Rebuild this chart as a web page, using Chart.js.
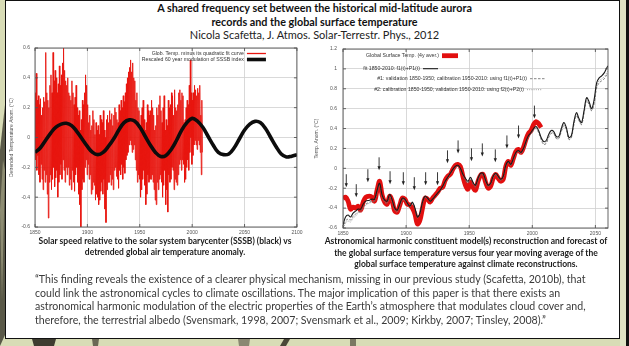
<!DOCTYPE html>
<html>
<head>
<meta charset="utf-8">
<script src="https://cdn.jsdelivr.net/npm/chart.js@4.4.1/dist/chart.umd.min.js"></script>
<style>
  html, body { margin: 0; padding: 0; }
  body { width: 629px; height: 346px; position: relative; overflow: hidden; background: #d8dcb6; font-family: Lato, "Open Sans", sans-serif; }
  #deco { position: absolute; left: 0; top: 0; }
  #frame { position: absolute; left: 5px; top: 0; width: 615px; height: 339px; box-sizing: border-box; border: 1.6px solid #111; background: #fff; }
  .line { position: absolute; white-space: nowrap; line-height: 12px; }
  .title { left: 0; width: 629px; text-align: center; color: #111; font-size: 10.8px; font-weight: bold; }
  .sub { left: 0; width: 629px; text-align: center; color: #222; font-size: 11px; }
  .cap { text-align: center; color: #1a1a1a; font-size: 8.5px; font-weight: bold; }
  .quote { left: 35px; color: #3a3a3a; font-size: 10.6px; }
  .plot { position: absolute; }
</style>
</head>
<body>
<svg id="deco" width="629" height="346">
  <polygon points="0,150 5,105 5,335 0,346" fill="#5a5948"/>
  <polygon points="0,210 3,160 5,170 2,300" fill="#8d8c72"/>
  <rect x="620" y="0" width="6" height="346" fill="#dfe3c4"/>
  <rect x="626" y="0" width="3" height="346" fill="#111"/>
  <polygon points="32,339 56,339 54,346 34,346" fill="#3e3c30"/>
  <polygon points="92,339 99,339 98,346 93,346" fill="#6a6855"/>
  <polygon points="238,339 250,339 249,346 239,346" fill="#8a8872"/>
  <polygon points="284,339 290,339 286,346 280,346" fill="#4a4838"/>
  <polygon points="350,339 356,339 356,346 350,346" fill="#7a7862"/>
</svg>
<div id="frame"></div>

<div class="line title" style="top:2px">A shared frequency set between the historical mid-latitude aurora</div>
<div class="line title" style="top:15.5px">records and the global surface temperature</div>
<div class="line sub" style="top:29px">Nicola Scafetta, J. Atmos. Solar-Terrestr. Phys., 2012</div>

<div class="plot" style="left:5px;top:40px;width:300px;height:200px"><canvas id="leftChart" width="300" height="200"></canvas></div>
<div class="plot" style="left:305px;top:40px;width:313px;height:200px"><canvas id="rightChart" width="313" height="200"></canvas></div>

<div class="line cap" style="left:15px;width:300px;top:235px">Solar speed relative to the solar system barycenter (SSSB) (black) vs</div>
<div class="line cap" style="left:15px;width:300px;top:246px">detrended global air temperature anomaly.</div>
<div class="line cap" style="left:316px;width:300px;top:235px">Astronomical harmonic constituent model(s) reconstruction and forecast of</div>
<div class="line cap" style="left:316px;width:300px;top:246.5px">the global surface temperature versus four year moving average of the</div>
<div class="line cap" style="left:316px;width:300px;top:258px">global surface temperature against climate reconstructions.</div>

<div class="line quote" style="top:273px">“This finding reveals the existence of a clearer physical mechanism, missing in our previous study (Scafetta, 2010b), that</div>
<div class="line quote" style="top:286.5px">could link the astronomical cycles to climate oscillations. The major implication of this paper is that there exists an</div>
<div class="line quote" style="top:300px">astronomical harmonic modulation of the electric properties of the Earth’s atmosphere that modulates cloud cover and,</div>
<div class="line quote" style="top:314px">therefore, the terrestrial albedo (Svensmark, 1998, 2007; Svensmark et al., 2009; Kirkby, 2007; Tinsley, 2008).”</div>

<script>
// ---- Left panel: detrended temperature (yearly upper / lower excursions) ----
const tempYears = [];
for (let y = 1850; y <= 2009; y++) tempYears.push(y);

const tempHigh = [
  0.30, 0.43, 0.25, 0.28, 0.22, 0.26, 0.15, 0.20, 0.27, 0.24,
  0.57, 0.30, 0.25, 0.20, 0.35, 0.42, 0.30, 0.57, 0.38, 0.45,
  0.40, 0.30, 0.36, 0.48, 0.35, 0.42, 0.50, 0.60, 0.45, 0.38,
  0.35, 0.40, 0.30, 0.28, 0.25, 0.38, 0.30, 0.22, 0.27, 0.35,
  0.20, 0.15, 0.18, 0.05, 0.12, 0.25, 0.22, 0.30, 0.42, 0.35,
  0.22, 0.10, 0.15, 0.05, 0.08, 0.18, 0.12, 0.02, 0.10, 0.05,
  0.08, 0.02, 0.15, 0.12, 0.10, 0.18, 0.05, 0.00, 0.12, 0.15,
  0.10, 0.18, 0.12, 0.16, 0.08, 0.15, 0.20, 0.17, 0.12, 0.10,
  0.22, 0.18, 0.25, 0.20, 0.28, 0.24, 0.30, 0.36, 0.40, 0.44,
  0.47, 0.52, 0.44, 0.50, 0.40, 0.38, 0.25, 0.30, 0.20, 0.18,
  0.08, 0.15, 0.20, 0.25, 0.12, 0.05, 0.10, 0.22, 0.18, 0.15,
  0.18, 0.25, 0.20, 0.15, 0.05, 0.08, 0.20, 0.15, 0.22, 0.28,
  0.18, 0.10, 0.20, 0.28, 0.05, 0.12, 0.08, 0.25, 0.20, 0.22,
  0.30, 0.28, 0.15, 0.32, 0.20, 0.18, 0.22, 0.30, 0.32, 0.25,
  0.30, 0.28, 0.10, 0.12, 0.20, 0.25, 0.22, 0.35, 0.52, 0.30,
  0.25, 0.30, 0.35, 0.32, 0.28, 0.33, 0.30, 0.35, 0.15, 0.25
];
const tempLow = [
  -0.15, -0.22, -0.12, -0.25, -0.30, -0.18, -0.28, -0.35, -0.22, -0.30,
  -0.25, -0.38, -0.54, -0.30, -0.25, -0.35, -0.28, -0.20, -0.33, -0.27,
  -0.22, -0.40, -0.30, -0.25, -0.18, -0.28, -0.15, -0.22, -0.30, -0.20,
  -0.25, -0.20, -0.32, -0.28, -0.35, -0.22, -0.30, -0.36, -0.25, -0.20,
  -0.30, -0.38, -0.45, -0.60, -0.35, -0.28, -0.30, -0.20, -0.15, -0.25,
  -0.18, -0.28, -0.25, -0.38, -0.35, -0.30, -0.32, -0.42, -0.38, -0.40,
  -0.45, -0.42, -0.36, -0.30, -0.38, -0.28, -0.48, -0.57, -0.35, -0.30,
  -0.30, -0.25, -0.32, -0.28, -0.35, -0.22, -0.20, -0.26, -0.28, -0.34,
  -0.22, -0.25, -0.18, -0.28, -0.20, -0.24, -0.15, -0.12, -0.10, -0.05,
  -0.02, -0.05, -0.10, -0.08, -0.05, -0.15, -0.22, -0.30, -0.25, -0.28,
  -0.40, -0.35, -0.28, -0.22, -0.32, -0.45, -0.38, -0.25, -0.30, -0.28,
  -0.28, -0.25, -0.30, -0.35, -0.42, -0.45, -0.30, -0.35, -0.28, -0.25,
  -0.30, -0.40, -0.32, -0.22, -0.45, -0.35, -0.50, -0.25, -0.30, -0.28,
  -0.20, -0.22, -0.35, -0.28, -0.30, -0.32, -0.25, -0.18, -0.15, -0.22,
  -0.15, -0.18, -0.30, -0.28, -0.20, -0.15, -0.22, -0.10, 0.00, -0.18,
  -0.12, -0.05, -0.02, -0.05, -0.08, -0.02, -0.05, -0.10, -0.25, -0.10
];

// ---- Left panel: rescaled 60-year SSSB modulation ----
const sssbYears = [1850,1855,1860,1865,1870,1875,1880,1885,1890,1895,1900,1905,1910,1915,1920,1925,1930,1935,1940,1945,1950,
  1955,1960,1965,1970,1975,1980,1985,1990,1995,2000,2005,2010,2015,2020,2025,2030,2035,2040,2045,2050,2055,2060,2065,2070,2075,2080,2085,2090,2095,2100];
const sssbVals = [-0.10,-0.07,-0.02,0.03,0.07,0.09,0.095,0.08,0.04,-0.01,-0.06,-0.10,-0.115,-0.10,-0.06,-0.01,0.05,0.10,0.118,0.11,0.07,
  0.01,-0.05,-0.10,-0.127,-0.12,-0.08,-0.02,0.05,0.10,0.128,0.11,0.07,0.01,-0.05,-0.10,-0.115,-0.11,-0.07,-0.01,0.05,0.09,0.108,0.10,0.06,
  0.00,-0.06,-0.11,-0.13,-0.125,-0.115];

// ---- Right panel: 4-year averaged global surface temperature ----
const gstYears = [1850,1852,1854,1856,1858,1860,1862,1864,1866,1868,1871,1873,1875,1877,1879,1881,1883,1885,1887,1889,1891,1893,1895,1897,1899,
  1901,1903,1905,1907,1909,1911,1913,1915,1917,1919,1921,1923,1925,1927,1929,1931,1933,1935,1937,1939,1941,1943,1945,1947,1949,
  1951,1953,1955,1957,1959,1961,1963,1965,1967,1969,1971,1973,1975,1977,1979,1981,1983,1985,1987,1989,1991,1993,1995,1997,1999,
  2001,2003,2005,2007];
const gstVals = [-0.30,-0.29,-0.33,-0.41,-0.39,-0.40,-0.38,-0.42,-0.34,-0.29,-0.28,-0.29,-0.33,-0.22,-0.13,-0.27,-0.34,-0.36,-0.28,-0.33,-0.43,-0.44,-0.37,-0.30,-0.31,
  -0.36,-0.37,-0.40,-0.46,-0.56,-0.52,-0.40,-0.30,-0.31,-0.34,-0.30,-0.27,-0.24,-0.20,-0.19,-0.12,-0.08,-0.06,-0.01,0.03,0.04,0.02,-0.08,-0.17,-0.21,
  -0.14,-0.19,-0.22,-0.13,-0.07,-0.06,-0.14,-0.20,-0.18,-0.10,-0.06,-0.10,-0.13,-0.11,0.02,0.07,0.03,0.10,0.17,0.19,0.16,0.21,0.29,0.35,0.38,
  0.44,0.47,0.45,0.41];

// ---- Right panel: harmonic model reconstructions and forecast ----
const modelYears = [1850,1852,1854,1856,1858,1860,1862,1864,1866,1868,1871,1873,1875,1877,1879,1881,1883,1885,1887,1889,1891,1893,1895,1897,1899,
  1901,1903,1905,1907,1909,1911,1913,1915,1917,1919,1921,1923,1925,1927,1929,1931,1933,1935,1937,1939,1941,1943,1945,1947,1949,
  1951,1953,1955,1957,1959,1961,1963,1965,1967,1969,1971,1973,1975,1977,1979,1981,1983,1985,1987,1989,1991,1993,1995,1997,1999,
  2001,2003,2005,2007,2009,2011,2013,2015,2017,2019,2021,2023,2025,2027,2029,2031,2033,2035,2037,2039,2041,2043,2045,2047,2049,
  2051,2053,2055,2057,2059,2060];
const fitVals = [-0.57,-0.49,-0.47,-0.49,-0.45,-0.43,-0.41,-0.41,-0.36,-0.33,-0.32,-0.31,-0.31,-0.22,-0.15,-0.27,-0.32,-0.33,-0.26,-0.32,-0.40,-0.42,-0.36,-0.30,-0.31,
  -0.35,-0.38,-0.34,-0.40,-0.49,-0.45,-0.34,-0.28,-0.30,-0.33,-0.31,-0.28,-0.25,-0.22,-0.18,-0.13,-0.09,-0.05,-0.01,0.02,0.03,0.00,-0.06,-0.10,-0.13,
  -0.09,-0.14,-0.17,-0.10,-0.05,-0.05,-0.12,-0.17,-0.15,-0.08,-0.05,-0.08,-0.11,-0.08,0.03,0.07,0.04,0.10,0.16,0.18,0.16,0.20,0.27,0.33,0.36,
  0.40,0.42,0.38,0.31,0.27,0.28,0.34,0.38,0.37,0.32,0.32,0.40,0.46,0.41,0.31,0.33,0.47,0.56,0.50,0.46,0.58,0.71,0.67,0.60,0.69,
  0.86,0.91,0.93,0.96,1.01,1.03];
const valid1Vals = [-0.60,-0.53,-0.51,-0.52,-0.48,-0.46,-0.44,-0.43,-0.39,-0.36,-0.34,-0.33,-0.33,-0.24,-0.17,-0.28,-0.33,-0.35,-0.28,-0.33,-0.41,-0.43,-0.37,-0.31,-0.32,
  -0.36,-0.38,-0.35,-0.40,-0.48,-0.44,-0.34,-0.29,-0.30,-0.33,-0.31,-0.29,-0.25,-0.22,-0.19,-0.13,-0.09,-0.05,-0.01,0.02,0.03,0.00,-0.07,-0.12,-0.15,
  -0.11,-0.16,-0.19,-0.12,-0.07,-0.07,-0.13,-0.18,-0.16,-0.09,-0.06,-0.09,-0.12,-0.09,0.02,0.06,0.03,0.09,0.15,0.17,0.15,0.19,0.26,0.32,0.35,
  0.38,0.40,0.36,0.29,0.24,0.25,0.31,0.35,0.35,0.30,0.30,0.37,0.43,0.39,0.29,0.31,0.44,0.53,0.48,0.44,0.55,0.68,0.64,0.58,0.65,
  0.81,0.86,0.88,0.90,0.94,0.96];
const calib2Vals = [-0.62,-0.55,-0.53,-0.54,-0.50,-0.48,-0.45,-0.44,-0.40,-0.37,-0.35,-0.34,-0.33,-0.24,-0.17,-0.29,-0.34,-0.35,-0.28,-0.34,-0.42,-0.44,-0.38,-0.32,-0.32,
  -0.36,-0.39,-0.35,-0.41,-0.50,-0.46,-0.35,-0.29,-0.31,-0.33,-0.31,-0.28,-0.25,-0.23,-0.19,-0.14,-0.10,-0.06,-0.02,0.01,0.02,-0.01,-0.06,-0.11,-0.14,
  -0.10,-0.15,-0.18,-0.11,-0.06,-0.06,-0.13,-0.18,-0.16,-0.09,-0.06,-0.09,-0.12,-0.09,0.02,0.06,0.03,0.09,0.15,0.17,0.15,0.19,0.26,0.32,0.35,
  0.39,0.41,0.37,0.30,0.25,0.26,0.32,0.36,0.35,0.30,0.30,0.38,0.44,0.39,0.29,0.31,0.45,0.54,0.48,0.44,0.56,0.69,0.65,0.58,0.66,
  0.83,0.88,0.90,0.92,0.96,0.98];

// ---- Right panel: marked maxima (downward arrows) ----
const arrowYears = [1852.6,1860.5,1869.7,1878.6,1887.3,1897.8,1906.5,1915.5,1924.9,1932.8,1941.2,1951.8,1960.4,1970.7,1979.9,1989.1,2001.7];
const arrowTips  = [-0.19,-0.29,-0.14,-0.02,-0.16,-0.17,-0.22,-0.17,-0.17,0.05,0.15,0.07,0.12,0.06,0.20,0.30,0.50];

// ---------------------------------------------------------------------------
const pairs = (xs, ys) => xs.map((x, i) => ({ x: x, y: ys[i] }));

const detrendedPoints = [];
tempYears.forEach((yr, i) => {
  detrendedPoints.push({ x: yr + 0.25, y: tempHigh[i] }, { x: yr + 0.75, y: tempLow[i] });
});

const tickFont = { family: "'Liberation Sans', Arial, sans-serif", size: 5 };
const tickColor = '#555';
const gridStyle = { color: '#cfcfcf', lineWidth: 0.8, drawTicks: false };
const yearLabel = v => String(Math.round(v));
const tempLabel = v => String(Number(v.toFixed(1)));

// gnuplot-like frame around the plotting area with small inward ticks
const framePlugin = {
  id: 'frameBox',
  afterDatasetsDraw(chart) {
    const { ctx, chartArea: a, scales } = chart;
    ctx.save();
    ctx.strokeStyle = '#555';
    ctx.lineWidth = 0.9;
    ctx.strokeRect(a.left, a.top, a.right - a.left, a.bottom - a.top);
    ctx.beginPath();
    scales.y.ticks.forEach(t => {
      const py = scales.y.getPixelForValue(t.value);
      ctx.moveTo(a.left, py); ctx.lineTo(a.left + 3, py);
      ctx.moveTo(a.right, py); ctx.lineTo(a.right - 3, py);
    });
    scales.x.ticks.forEach(t => {
      const px = scales.x.getPixelForValue(t.value);
      ctx.moveTo(px, a.bottom); ctx.lineTo(px, a.bottom - 3);
      ctx.moveTo(px, a.top); ctx.lineTo(px, a.top + 3);
    });
    ctx.stroke();
    ctx.restore();
  }
};

// key drawn inside the plot: right-aligned text followed by a line sample
const keyPlugin = {
  id: 'insideKey',
  afterDraw(chart, args, opts) {
    const { ctx, chartArea: a } = chart;
    ctx.save();
    ctx.font = "5.2px 'Liberation Sans', Arial, sans-serif";
    ctx.fillStyle = '#333';
    ctx.textAlign = 'right';
    ctx.textBaseline = 'middle';
    (opts.items || []).forEach(it => {
      const ds = chart.data.datasets[it.dataset];
      const ox = it.fromRight ? a.right - it.x : a.left + it.x;
      const y = a.top + it.y;
      ctx.fillText(ds.label, ox, y);
      ctx.beginPath();
      ctx.strokeStyle = ds.borderColor;
      ctx.lineWidth = it.width || ds.borderWidth;
      ctx.setLineDash(ds.borderDash || []);
      ctx.moveTo(ox + 3, y);
      ctx.lineTo(ox + 3 + it.len, y);
      ctx.stroke();
      ctx.setLineDash([]);
    });
    ctx.restore();
  }
};

// downward arrows pointing at the maxima
const arrowPlugin = {
  id: 'maxArrows',
  afterDatasetsDraw(chart) {
    const { ctx, scales } = chart;
    ctx.save();
    ctx.strokeStyle = '#222';
    ctx.fillStyle = '#222';
    ctx.lineWidth = 0.9;
    arrowYears.forEach((yr, i) => {
      const px = scales.x.getPixelForValue(yr);
      const py = scales.y.getPixelForValue(arrowTips[i]);
      ctx.beginPath();
      ctx.moveTo(px, py - 13);
      ctx.lineTo(px, py - 3);
      ctx.stroke();
      ctx.beginPath();
      ctx.moveTo(px - 1.6, py - 4);
      ctx.lineTo(px + 1.6, py - 4);
      ctx.lineTo(px, py);
      ctx.closePath();
      ctx.fill();
    });
    ctx.restore();
  }
};

new Chart(document.getElementById('leftChart'), {
  type: 'line',
  data: {
    datasets: [
      { label: 'Glob. Temp. minus its quadratic fit curve', data: detrendedPoints,
        borderColor: '#e8150f', borderWidth: 0.9, pointRadius: 0, tension: 0, order: 2 },
      { label: 'Rescaled 60 year modulation of SSSB index', data: pairs(sssbYears, sssbVals),
        borderColor: '#0c0c0c', borderWidth: 3.6, pointRadius: 0, tension: 0.4, order: 1 }
    ]
  },
  options: {
    responsive: false, animation: false, devicePixelRatio: 1,
    layout: { padding: { top: 7, right: 7, left: 0, bottom: 0 } },
    plugins: {
      legend: { display: false }, tooltip: { enabled: false },
      insideKey: { items: [
        { dataset: 0, x: 53, fromRight: true, y: 5.5, len: 19, width: 1.3 },
        { dataset: 1, x: 53, fromRight: true, y: 11.5, len: 19 }
      ] }
    },
    scales: {
      x: { type: 'linear', min: 1850, max: 2100,
        ticks: { stepSize: 50, font: tickFont, color: tickColor, padding: 2.5, maxRotation: 0, callback: yearLabel },
        grid: gridStyle, border: { display: false },
        afterFit: s => { s.height = 13; } },
      y: { min: -0.6, max: 0.6,
        ticks: { stepSize: 0.2, font: tickFont, color: tickColor, padding: 5, callback: tempLabel },
        grid: gridStyle, border: { display: false },
        title: { display: true, text: 'Detrended Temperature Anom. (°C)', font: tickFont, color: tickColor, padding: { top: 4, bottom: 0 } },
        afterFit: s => { s.width = 30; } }
    }
  },
  plugins: [framePlugin, keyPlugin]
});

new Chart(document.getElementById('rightChart'), {
  type: 'line',
  data: {
    datasets: [
      { label: 'Global Surface Temp. (4y aver.)', data: pairs(gstYears, gstVals),
        borderColor: '#e20f0f', borderWidth: 4.8, pointRadius: 0, tension: 0.35, order: 4 },
      { label: 'fit 1850-2010: f1(t)+P1(t)', data: pairs(modelYears, fitVals),
        borderColor: '#1a1a1a', borderWidth: 1.1, pointRadius: 0, tension: 0.35, order: 1 },
      { label: '#1: validation 1850-1950; calibration 1950-2010: using f1(t)+P1(t)', data: pairs(modelYears, valid1Vals),
        borderColor: '#666', borderWidth: 0.8, borderDash: [2.5, 1.5], pointRadius: 0, tension: 0.35, order: 2 },
      { label: '#2: calibration 1850-1950; validation 1950-2010: using f2(t)+P2(t)', data: pairs(modelYears, calib2Vals),
        borderColor: '#888', borderWidth: 0.8, borderDash: [1, 1.2], pointRadius: 0, tension: 0.35, order: 3 }
    ]
  },
  options: {
    responsive: false, animation: false, devicePixelRatio: 1,
    layout: { padding: { top: 6, right: 10, left: 0, bottom: 0 } },
    plugins: {
      legend: { display: false }, tooltip: { enabled: false },
      insideKey: { items: [
        { dataset: 0, x: 96, y: 6.7, len: 16 },
        { dataset: 1, x: 77, y: 19.7, len: 15 },
        { dataset: 2, x: 184, y: 29.7, len: 15 },
        { dataset: 3, x: 181, y: 40.7, len: 15 }
      ] }
    },
    scales: {
      x: { type: 'linear', min: 1850, max: 2060,
        ticks: { stepSize: 50, includeBounds: false, font: tickFont, color: tickColor, padding: 2.5, maxRotation: 0, callback: yearLabel },
        grid: gridStyle, border: { display: false },
        afterFit: s => { s.height = 12; } },
      y: { min: -0.6, max: 1.2,
        ticks: { stepSize: 0.2, font: tickFont, color: tickColor, padding: 6, callback: tempLabel },
        grid: gridStyle, border: { display: false },
        title: { display: true, text: 'Temp. Anom. (°C)', font: tickFont, color: tickColor, padding: { top: 9, bottom: 0 } },
        afterFit: s => { s.width = 38; } }
    }
  },
  plugins: [framePlugin, arrowPlugin, keyPlugin]
});
</script>
</body>
</html>
